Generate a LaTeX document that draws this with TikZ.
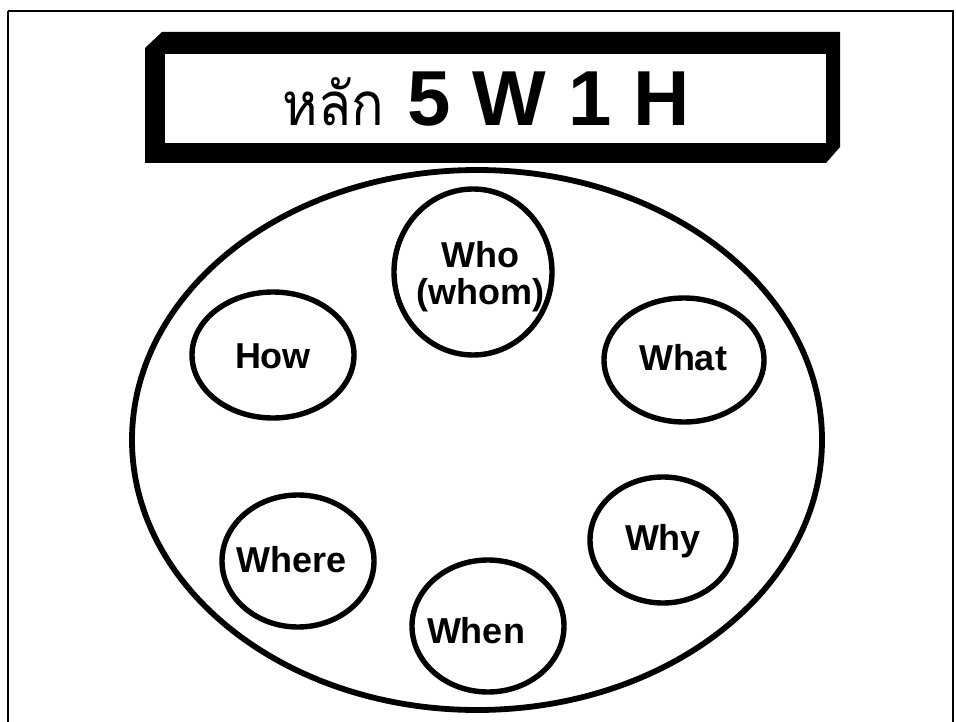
\documentclass[tikz,border=0pt]{standalone}
\usepackage{fontspec}
\setmainfont{Liberation Sans}
\newfontfamily\thaifont[Script=Thai]{Loma}
\usetikzlibrary{shapes.geometric}
\tikzset{
  bubble/.style={draw=black, line width=5.4pt, ellipse, inner sep=0pt},
  lbl/.style={font=\fontsize{36}{37}\selectfont\bfseries, anchor=base, align=center, inner sep=0pt},
}
\begin{document}
\begin{tikzpicture}[x=1pt,y=-1pt]
\useasboundingbox (0,0) rectangle (956,722);
\fill[white] (0,0) rectangle (956,722);
% outer frame
\draw[line width=2.5pt] (8,11) -- (953,11) -- (953,740) (8,740) -- (8,11);
% title box
\fill[black] (145,48) -- (162,32) -- (840,32) -- (840,147) -- (826,163) -- (145,163) -- cycle;
\fill[white] (165,54) rectangle (826,143);
\node[anchor=base, inner sep=0pt] (title) at (486,126)
  {\scalebox{0.9}[1]{\thaifont\fontsize{60}{60}\selectfont หลัก}\hspace{24pt}{\fontsize{78}{78}\selectfont\bfseries 5 W 1 H}};
% big ellipse
\node[draw=black, line width=5.8pt, ellipse, inner sep=0pt, minimum width=690pt, minimum height=540pt] (big) at (477,440) {};
% bubbles
\node[bubble, minimum width=158pt, minimum height=166pt] (who) at (473,272) {};
\node[bubble, minimum width=160pt, minimum height=124pt] (what) at (684,360) {};
\node[bubble, minimum width=146pt, minimum height=126pt] (why) at (663,540) {};
\node[bubble, minimum width=162pt, minimum height=126pt] (how) at (273,355) {};
\node[bubble, minimum width=152pt, minimum height=132pt] (where) at (298,561) {};
\node[bubble, minimum width=152pt, minimum height=132pt] (when) at (488,626) {};
% labels
\node[lbl] (whot) at (480,305) {Who\\(whom)};
\node[lbl] (whatt) at (683,370) {What};
\node[lbl] (whyt) at (663,550) {Why};
\node[lbl] (howt) at (273,368) {How};
\node[lbl] (wheret) at (292,572) {Where};
\node[lbl] (whent) at (476,643) {When};
\end{tikzpicture}
\end{document}
